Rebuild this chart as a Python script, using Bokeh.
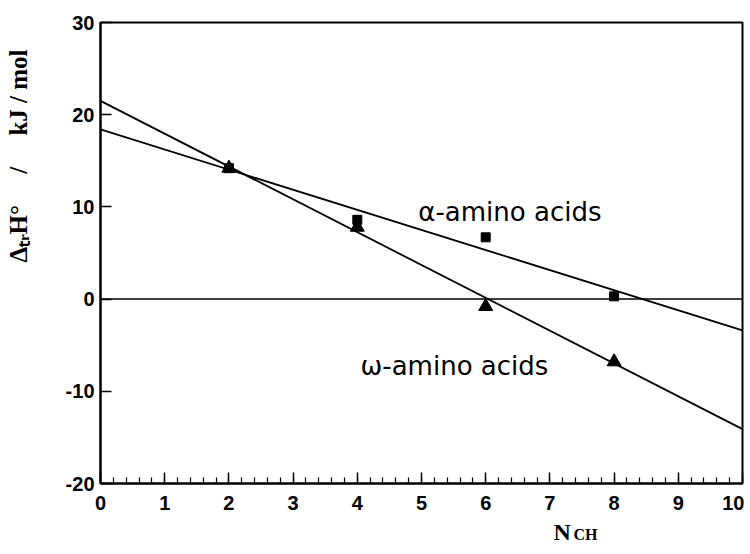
from bokeh.plotting import figure
from bokeh.models import Range1d, SingleIntervalTicker, Label, Span, Title
from bokeh.embed import file_html
from bokeh.resources import INLINE

# data
n_ch = [2, 4, 6, 8]
alpha_dh = [14.2, 8.6, 6.7, 0.3]
omega_dh = [14.2, 7.8, -0.8, -6.8]
fit_x = [0, 10]
alpha_fit = [18.4, -3.4]
omega_fit = [21.5, -14.1]
x_ticks = [0, 1, 2, 3, 4, 5, 6, 7, 8, 9, 10]
y_ticks = [-20, -10, 0, 10, 20, 30]

p = figure(width=744, height=550, output_backend="svg", toolbar_location=None,
           x_range=Range1d(0, 10), y_range=Range1d(-20, 30),
           min_border_left=100, min_border_right=2, min_border_top=22, min_border_bottom=67)
p.background_fill_color = "white"
p.border_fill_color = "white"
p.outline_line_color = "black"
p.outline_line_width = 2
p.xgrid.visible = False
p.ygrid.visible = False

p.xaxis.ticker = SingleIntervalTicker(interval=1, num_minor_ticks=5)
p.yaxis.ticker = SingleIntervalTicker(interval=10, num_minor_ticks=0)
p.yaxis.major_label_overrides = {t: str(t) for t in y_ticks}
for ax in (p.xaxis, p.yaxis):
    ax.axis_line_width = 2
    ax.axis_line_color = "black"
    ax.major_tick_in = 11
    ax.major_tick_out = 0
    ax.major_tick_line_width = 1.5
    ax.major_tick_line_color = "black"
    ax.major_label_text_font = "Liberation Sans"
    ax.major_label_text_font_style = "bold"
    ax.major_label_text_font_size = "20px"
    ax.major_label_text_color = "black"
p.xaxis.minor_tick_in = 6
p.xaxis.minor_tick_out = 0
p.xaxis.minor_tick_line_width = 1.2
p.xaxis.minor_tick_line_color = "black"
p.yaxis.minor_tick_line_color = None
p.xaxis.major_label_standoff = 12
p.yaxis.major_label_standoff = 6
# spacer between the y tick labels and the rotated title
p.yaxis.axis_label = " "
p.yaxis.axis_label_text_font_size = "10px"
p.yaxis.axis_label_standoff = 13

p.add_layout(Span(location=0, dimension="width", line_color="black", line_width=1.5))

p.line(fit_x, alpha_fit, line_color="black", line_width=1.8)
p.line(fit_x, omega_fit, line_color="black", line_width=1.8)
p.scatter(n_ch, alpha_dh, marker="square", size=9, color="black")
p.scatter(n_ch, omega_dh, marker="triangle", size=14, color="black")

p.add_layout(Label(x=4.95, y=9.42, text="α-amino acids", text_font="DejaVu Sans",
                   text_font_size="26px", text_baseline="alphabetic", text_color="black"))
p.add_layout(Label(x=4.05, y=-7.31, text="ω-amino acids", text_font="DejaVu Sans",
                   text_font_size="26px", text_baseline="alphabetic", text_color="black"))

serif = "Liberation Serif"
nb = "\u00a0" * 5
# y axis title (rotated, placed toward the top)
p.add_layout(Title(text="ΔₜᵣH°" + nb + "/" + nb + "kJ / mol", align="right", offset=27,
                   standoff=4, vertical_align="top", text_font=serif, text_font_style="bold",
                   text_font_size="25px", text_color="black"), "left")
# x axis title N with subscript CH
p.add_layout(Title(text="N", align="left", offset=453, standoff=8,
                   text_font=serif, text_font_style="bold", text_font_size="24px",
                   text_color="black"), "below")
p.add_layout(Title(text="CH", align="left", offset=473, standoff=-46, vertical_align="top",
                   text_font=serif, text_font_style="bold", text_font_size="16px",
                   text_color="black"), "below")

open("out.html", "w").write(file_html(p, INLINE))
